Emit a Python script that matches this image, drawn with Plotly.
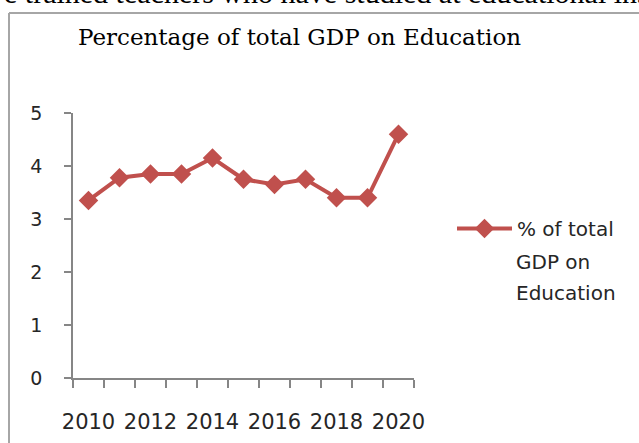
import plotly.graph_objects as go

years = [2010, 2011, 2012, 2013, 2014, 2015, 2016, 2017, 2018, 2019, 2020]
gdp_pct = [3.35, 3.78, 3.85, 3.85, 4.15, 3.75, 3.65, 3.75, 3.4, 3.4, 4.6]
x_tick_labels = [2010, 2012, 2014, 2016, 2018, 2020]
y_ticks = [0, 1, 2, 3, 4, 5]
series_name = "% of total"
legend_extra = ["GDP on", "Education"]
title_text = "Percentage of total GDP on Education"
header_fragment = "e trained teachers who have studied at educational institutions"

W, H = 639, 443
L, R, T, B = 73, 414, 113, 378


def px(xp):
    return (xp - L) / (R - L)


def py(yp):
    return (B - yp) / (B - T)


RED = "#c0504d"
AXIS = "#868686"
TXT = "#262626"

fig = go.Figure()
fig.add_trace(go.Scatter(
    x=years, y=gdp_pct, mode="lines+markers", name=series_name,
    line=dict(color=RED, width=4),
    marker=dict(symbol="diamond", size=15, color=RED),
))

fig.update_layout(
    width=W, height=H,
    margin=dict(l=L, r=W - R, t=T, b=H - B, autoexpand=False),
    paper_bgcolor="white", plot_bgcolor="white",
    showlegend=True,
    legend=dict(x=px(452), y=py(209), xanchor="left", yanchor="top",
                itemwidth=55,
                font=dict(family="DejaVu Sans", size=20, color=TXT),
                bgcolor="rgba(0,0,0,0)", borderwidth=0),
    xaxis=dict(
        range=[2009.5, 2020.5], showgrid=False, zeroline=False,
        showline=True, linecolor=AXIS, linewidth=1.5,
        tickvals=x_tick_labels, ticktext=[str(v) for v in x_tick_labels],
        ticks="", ticklabelstandoff=24,
        tickfont=dict(family="DejaVu Sans", size=21, color=TXT),
        minor=dict(tick0=2009.5, dtick=1, ticks="outside", ticklen=8,
                   tickwidth=1.5, tickcolor=AXIS, showgrid=False),
    ),
    yaxis=dict(
        range=[0, 5], showgrid=False, zeroline=False,
        showline=True, linecolor=AXIS, linewidth=1.5,
        tickvals=y_ticks, ticks="outside", ticklen=7, tickwidth=1.5,
        tickcolor=AXIS, ticklabelstandoff=18,
        tickfont=dict(family="DejaVu Sans", size=19, color=TXT),
    ),
    shapes=[
        dict(type="line", xref="paper", yref="paper",
             x0=px(9), x1=px(650), y0=py(13), y1=py(13),
             line=dict(color="#a6a6a6", width=2)),
        dict(type="line", xref="paper", yref="paper",
             x0=px(9), x1=px(9), y0=py(13), y1=py(460),
             line=dict(color="#a6a6a6", width=2)),
    ],
    annotations=[
        dict(text=title_text, xref="paper", yref="paper",
             x=px(299), y=py(37), xanchor="center", yanchor="middle",
             showarrow=False,
             font=dict(family="DejaVu Serif", size=23, color="black")),
        dict(text=header_fragment, xref="paper", yref="paper",
             x=px(2), y=py(11), xanchor="left", yanchor="bottom",
             showarrow=False,
             font=dict(family="Liberation Serif", size=30, color="black")),
        dict(text=legend_extra[0], xref="paper", yref="paper",
             x=px(514), y=py(262), xanchor="left", yanchor="middle",
             showarrow=False,
             font=dict(family="DejaVu Sans", size=20, color=TXT)),
        dict(text=legend_extra[1], xref="paper", yref="paper",
             x=px(514), y=py(293), xanchor="left", yanchor="middle",
             showarrow=False,
             font=dict(family="DejaVu Sans", size=20, color=TXT)),
    ],
)

fig.write_html("out.html", config={"displayModeBar": False},
               post_script="document.body.style.margin='0';")
